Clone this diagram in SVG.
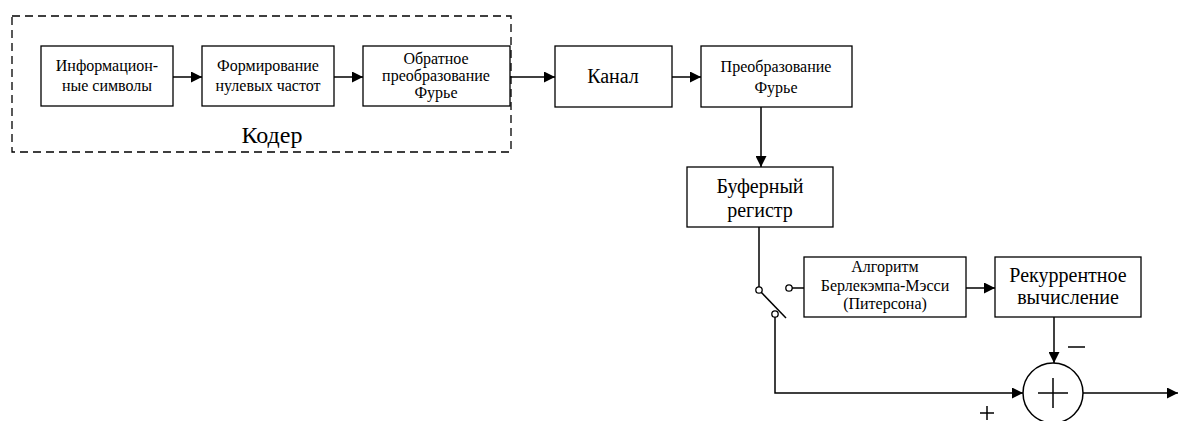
<svg xmlns="http://www.w3.org/2000/svg" width="1178" height="421" viewBox="0 0 1178 421">
<defs>
<marker id="ah" viewBox="0 0 10 10" refX="10" refY="5" markerWidth="11" markerHeight="11" markerUnits="userSpaceOnUse" orient="auto">
<path d="M0,0 L10,5 L0,10 z" fill="#000"/>
</marker>
<style>
.box{fill:#fff;stroke:#000;stroke-width:1.3}
.ln{fill:none;stroke:#000;stroke-width:1.5}
.dot{fill:#fff;stroke:#000;stroke-width:1.3}
text{font-family:'Liberation Serif',serif;fill:#000;text-anchor:middle}
.s16{font-size:16px}
.s20{font-size:20px}
</style>
</defs>
<rect width="1178" height="421" fill="#fff"/>
<g id="coder">
<rect x="12" y="16" width="499" height="136" fill="none" stroke="#000" stroke-width="1.3" stroke-dasharray="8,5"/>
<text x="272" y="143" style="font-size:24px">Кодер</text>
</g>
<g id="info">
<rect class="box" x="41" y="46" width="132" height="60"/>
<text class="s16" x="107" y="71">Информацион-</text>
<text class="s16" x="107" y="91">ные символы</text>
</g>
<g id="zero">
<rect class="box" x="202" y="46" width="132" height="60"/>
<text class="s16" x="268" y="71">Формирование</text>
<text class="s16" x="268" y="91">нулевых частот</text>
</g>
<g id="ifft">
<rect class="box" x="363" y="46" width="147" height="60"/>
<text class="s16" x="436" y="64">Обратное</text>
<text class="s16" x="436" y="81">преобразование</text>
<text class="s16" x="436" y="98">Фурье</text>
</g>
<g id="channel">
<rect class="box" x="555" y="46" width="117" height="61"/>
<text class="s20" x="613" y="83">Канал</text>
</g>
<g id="fft">
<rect class="box" x="701" y="46" width="151" height="61"/>
<text class="s16" x="776" y="72">Преобразование</text>
<text class="s16" x="776" y="93">Фурье</text>
</g>
<g id="buffer">
<rect class="box" x="687" y="167" width="146" height="60"/>
<text class="s20" x="760" y="193">Буферный</text>
<text class="s20" x="760" y="217">регистр</text>
</g>
<g id="bm">
<rect class="box" x="804" y="257" width="162" height="60"/>
<text class="s16" x="885" y="272">Алгоритм</text>
<text class="s16" x="885" y="291">Берлекэмпа-Мэсси</text>
<text class="s16" x="885" y="309">(Питерсона)</text>
</g>
<g id="rec">
<rect class="box" x="995" y="257" width="146" height="60"/>
<text class="s20" x="1068" y="282">Рекуррентное</text>
<text class="s20" x="1068" y="304">вычисление</text>
</g>
<g id="sum">
<circle cx="1053" cy="393" r="30" fill="#fff" stroke="#000" stroke-width="1.5"/>
<line class="ln" x1="1053" y1="378" x2="1053" y2="408"/>
<line class="ln" x1="1038" y1="393" x2="1068" y2="393"/>
</g>
<g id="switch">
<line class="ln" x1="759" y1="290" x2="786" y2="318"/>
<circle class="dot" cx="759" cy="290" r="3.2"/>
<circle class="dot" cx="775" cy="314" r="3.2"/>
<circle class="dot" cx="789" cy="288" r="3.2"/>
</g>
<g id="connectors">
<line class="ln" x1="173" y1="77" x2="202" y2="77" marker-end="url(#ah)"/>
<line class="ln" x1="334" y1="77" x2="363" y2="77" marker-end="url(#ah)"/>
<line class="ln" x1="510" y1="77" x2="555" y2="77" marker-end="url(#ah)"/>
<line class="ln" x1="672" y1="77" x2="701" y2="77" marker-end="url(#ah)"/>
<line class="ln" x1="761" y1="107" x2="761" y2="167" marker-end="url(#ah)"/>
<line class="ln" x1="759" y1="227" x2="759" y2="287"/>
<line class="ln" x1="792" y1="288" x2="804" y2="288"/>
<line class="ln" x1="966" y1="288" x2="995" y2="288" marker-end="url(#ah)"/>
<line class="ln" x1="1054" y1="317" x2="1054" y2="363" marker-end="url(#ah)"/>
<polyline class="ln" points="775,317 775,393 1023,393" marker-end="url(#ah)"/>
<line class="ln" x1="1083" y1="393" x2="1178" y2="393" marker-end="url(#ah)"/>
<line class="ln" x1="1068" y1="347" x2="1085" y2="347"/>
<line class="ln" x1="980" y1="413" x2="994" y2="413"/>
<line class="ln" x1="987" y1="406" x2="987" y2="420"/>
</g>
</svg>
